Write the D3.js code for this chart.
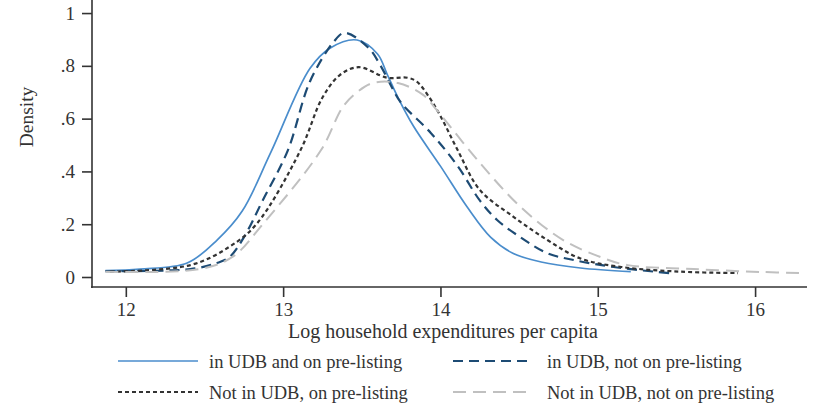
<!DOCTYPE html>
<html>
<head>
<meta charset="utf-8">
<script src="https://cdn.jsdelivr.net/npm/d3@7"></script>
<style>
  body { margin: 0; background: #fff; }
  svg text { font-family: "Liberation Serif", "Times New Roman", serif; fill: #333; }
</style>
</head>
<body>
<div class="container"></div>
<script>
// density estimates: [log expenditure, density]
const udbPre = [[11.87,0.024],[12.09,0.03],[12.39,0.053],[12.58,0.14],[12.74,0.25],[12.92,0.47],[13.17,0.79],[13.30,0.868],[13.47,0.898],[13.60,0.845],[13.66,0.77],[13.73,0.68],[13.83,0.57],[14.0,0.42],[14.17,0.265],[14.32,0.15],[14.46,0.09],[14.64,0.057],[14.89,0.034],[15.21,0.02]]
const udbNoPre = [[11.87,0.022],[12.41,0.03],[12.58,0.053],[12.66,0.076],[12.75,0.15],[12.87,0.29],[13.03,0.48],[13.17,0.74],[13.32,0.89],[13.39,0.925],[13.54,0.87],[13.62,0.80],[13.69,0.72],[13.75,0.66],[13.94,0.545],[14.11,0.42],[14.25,0.29],[14.36,0.216],[14.51,0.15],[14.68,0.09],[14.85,0.064],[15.10,0.038],[15.48,0.013]]
const noUdbPre = [[11.90,0.02],[12.41,0.045],[12.66,0.115],[12.83,0.2],[13.11,0.48],[13.25,0.68],[13.36,0.765],[13.48,0.795],[13.66,0.755],[13.79,0.755],[13.85,0.74],[13.93,0.68],[14.0,0.61],[14.11,0.48],[14.25,0.33],[14.46,0.23],[14.68,0.14],[14.89,0.07],[15.15,0.038],[15.53,0.02],[15.89,0.015]]
const noUdbNoPre = [[11.87,0.02],[12.47,0.03],[12.68,0.077],[12.87,0.2],[13.24,0.48],[13.38,0.645],[13.47,0.70],[13.57,0.735],[13.73,0.735],[13.89,0.69],[13.98,0.63],[14.24,0.44],[14.51,0.265],[14.78,0.14],[15.02,0.075],[15.19,0.045],[15.61,0.03],[16.04,0.019],[16.31,0.015]]

const labels = ['in UDB and on pre-listing', 'in UDB, not on pre-listing', 'Not in UDB, on pre-listing', 'Not in UDB, not on pre-listing']
const xTicks = [12, 13, 14, 15, 16]
const yTicks = [0, 0.2, 0.4, 0.6, 0.8, 1]
const yTickLabels = ['0', '.2', '.4', '.6', '.8', '1']

const width = 817
const height = 410

const series = [
  { data: udbPre, color: '#4a8dcc', dash: null, w: 1.7 },
  { data: udbNoPre, color: '#1d4b74', dash: '10,6', w: 2.2 },
  { data: noUdbPre, color: '#333333', dash: '4,3', w: 2.2 },
  { data: noUdbNoPre, color: '#c0c0c0', dash: '13,7', w: 2 }
]

const xScale = d3.scaleLinear().domain([11.785, 16.33]).range([92, 807])
const yScale = d3.scaleLinear().domain([0, 1.04]).range([277, 2.5])

const svg = d3.select('.container')
  .append('svg')
    .attr('width', width)
    .attr('height', height)

const line = d3.line()
  .x(d => xScale(d[0]))
  .y(d => yScale(d[1]))
  .curve(d3.curveCatmullRom.alpha(0.5))

svg.selectAll('path.kde')
  .data(series)
  .enter()
  .append('path')
  .attr('class', 'kde')
  .attr('d', d => line(d.data))
  .attr('fill', 'none')
  .attr('stroke', d => d.color)
  .attr('stroke-width', d => d.w)
  .attr('stroke-dasharray', d => d.dash)

// axes
const xAxis = d3.axisBottom(xScale).tickValues(xTicks).tickFormat(d3.format('d')).tickSize(10).tickPadding(6).tickSizeOuter(0)
const yAxis = d3.axisLeft(yScale).tickValues(yTicks).tickFormat((d, i) => yTickLabels[i]).tickSize(10).tickPadding(7).tickSizeOuter(0)

const gx = svg.append('g')
  .attr('transform', 'translate(0, 287)')
  .call(xAxis)
const gy = svg.append('g')
  .attr('transform', 'translate(92, 0)')
  .call(yAxis)

gx.select('.domain').attr('d', 'M91,0H807')
gy.select('.domain').attr('d', 'M0,0V288')
svg.selectAll('.domain, .tick line').attr('stroke', '#333').attr('stroke-width', 1.6)
svg.selectAll('.tick text').style('font-size', '19px').attr('fill', '#333').style('font-family', '"Liberation Serif", serif')

svg.append('text')
  .attr('x', 443)
  .attr('y', 338)
  .attr('text-anchor', 'middle')
  .style('font-size', '20px')
  .text('Log household expenditures per capita')

svg.append('text')
  .attr('transform', 'translate(33, 117) rotate(-90)')
  .attr('text-anchor', 'middle')
  .style('font-size', '19.5px')
  .text('Density')

// legend
const legendPos = [[118, 361], [453, 361], [118, 392], [453, 392]]
const legend = svg.selectAll('g.legend')
  .data(series)
  .enter()
  .append('g')
  .attr('class', 'legend')
  .attr('transform', (d, i) => `translate(${legendPos[i][0]}, ${legendPos[i][1]})`)

legend.append('line')
  .attr('x1', 0).attr('x2', (d, i) => i % 2 === 0 ? 80 : 77)
  .attr('stroke', d => d.color)
  .attr('stroke-width', d => d.w)
  .attr('stroke-dasharray', d => d.dash)

legend.append('text')
  .attr('x', (d, i) => i % 2 === 0 ? 91 : 94)
  .attr('y', 6.5)
  .style('font-size', '18.5px')
  .text((d, i) => labels[i])
</script>
</body>
</html>
